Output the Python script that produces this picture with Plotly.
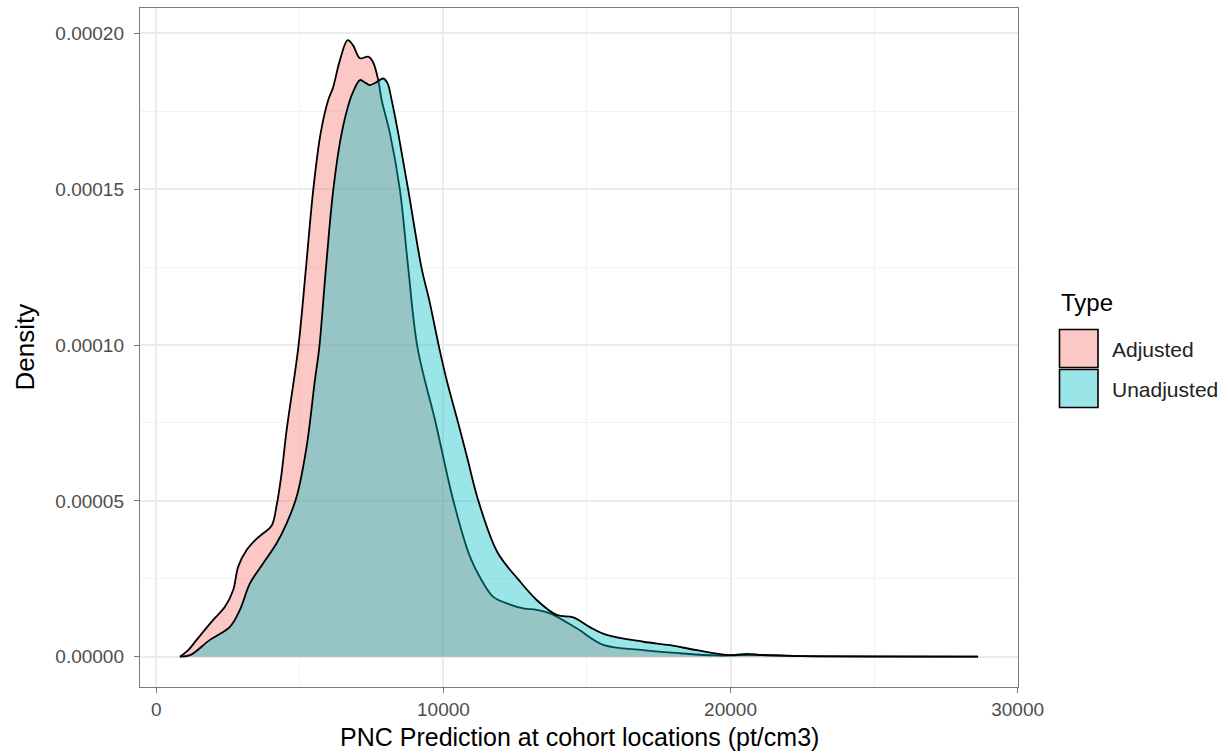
import plotly.graph_objects as go

# Kernel density estimates of PNC predictions (pt/cm3) at cohort locations
series_names = ["Adjusted", "Unadjusted"]

adjusted_x = [819, 1100, 1401, 1979, 2387, 2676, 2850, 3143, 3450, 3721, 4014, 4188, 4350,
              4537, 4941, 5209, 5463, 5721, 5986, 6150, 6394, 6662, 6847, 7091, 7380, 7544,
              7728, 7847, 8136, 8484, 8774, 9100, 9730, 10345, 10923, 11300, 11735, 12300,
              12780, 13247, 13711, 14641, 15568, 16962, 18240, 19500, 21000, 22500, 25000, 28624]
adjusted_y = [0.0, 0.2, 0.54, 1.18, 1.60, 2.14, 2.89, 3.42, 3.75, 3.96, 4.20, 4.85, 5.80,
              7.27, 9.90, 12.46, 14.97, 16.79, 17.86, 18.25, 19.14, 19.78, 19.62, 19.20, 19.25, 19.08,
              18.50, 17.86, 16.79, 14.97, 12.46, 9.90, 7.50, 5.00, 3.21, 2.50, 1.92, 1.68,
              1.55, 1.50, 1.39, 0.91, 0.38, 0.21, 0.11, 0.04, 0.06, 0.02, 0.01, 0.0]

unadjusted_x = [819, 1174, 1864, 2561, 2909, 3258, 3721, 4188, 4537, 4885, 5233, 5523, 5672,
                5906, 6160, 6453, 6742, 6857, 7091, 7300, 7439, 7683, 7902, 8050, 8195, 8425,
                8774, 9240, 9505, 9854, 10111, 10516, 10850, 11200, 11880, 12606, 13247, 13944,
                14523, 15100, 15686, 16962, 17892, 18822, 19983, 20575, 21133, 22422, 25000, 28624]
unadjusted_y = [0.0, 0.05, 0.54, 0.96, 1.50, 2.35, 3.00, 3.64, 4.28, 5.13, 6.74, 8.88, 9.90,
                12.46, 14.97, 16.79, 17.86, 18.13, 18.50, 18.40, 18.34, 18.44, 18.55, 18.40, 17.86, 16.79,
                14.97, 12.46, 11.44, 9.90, 8.88, 7.49, 6.30, 5.05, 3.35, 2.48, 1.82, 1.34,
                1.26, 0.95, 0.70, 0.48, 0.37, 0.21, 0.05, 0.09, 0.05, 0.02, 0.005, 0.0]

SCALE = 1e-5  # density values above are in units of 1e-5

x_ticks = [0, 10000, 20000, 30000]
y_ticks = [0.0, 0.00005, 0.00010, 0.00015, 0.00020]

fill_colors = ["rgba(248,118,109,0.4)", "rgba(0,191,196,0.4)"]
FONT = "Liberation Sans, Arial, sans-serif"

fig = go.Figure()
for name, xs, ys, fc in zip(series_names,
                            [adjusted_x, unadjusted_x],
                            [adjusted_y, unadjusted_y],
                            fill_colors):
    fig.add_trace(go.Scatter(
        x=xs, y=[v * SCALE for v in ys], name=name, mode="lines",
        line=dict(color="black", width=1.8, shape="spline", smoothing=1.0),
        fill="tozeroy", fillcolor=fc, showlegend=False,
    ))

axis_common = dict(
    showline=True, mirror=True, linecolor="#7a7a7a", linewidth=1.4,
    ticks="outside", ticklen=5, tickwidth=1.4, tickcolor="#7a7a7a",
    showgrid=True, gridcolor="#EBEBEB", gridwidth=1.6, zeroline=False,
    tickfont=dict(family=FONT, size=19, color="#4D4D4D"),
)

fig.update_xaxes(
    range=[-571, 30014], tickvals=x_ticks, tickformat="d",
    minor=dict(dtick=5000, tick0=0, showgrid=True, gridcolor="#F3F3F3", gridwidth=1),
    **axis_common,
)
fig.update_yaxes(
    range=[-0.00000972, 0.00020812], tickvals=y_ticks, tickformat=".5f",
    ticklabelstandoff=6,
    minor=dict(dtick=0.000025, tick0=0, showgrid=True, gridcolor="#F3F3F3", gridwidth=1),
    **axis_common,
)

L, R, T, B = 140, 210, 8, 67
W, H = 1228, 754
pw, ph = W - L - R, H - T - B


def px_x(px):
    return (px - L) / pw


def px_y(py):
    return (H - B - py) / ph


annotations = [
    dict(text="PNC Prediction at cohort locations (pt/cm3)", x=0.5, y=px_y(737),
         xref="paper", yref="paper", xanchor="center", yanchor="middle", showarrow=False,
         font=dict(family=FONT, size=25, color="black")),
    dict(text="Density", x=px_x(24), y=0.5, xref="paper", yref="paper",
         xanchor="center", yanchor="middle", textangle=-90, showarrow=False,
         font=dict(family=FONT, size=26, color="black")),
    dict(text="Type", x=px_x(1059), y=px_y(302), xref="paper", yref="paper",
         xanchor="left", yanchor="middle", showarrow=False,
         font=dict(family=FONT, size=24, color="black")),
]

# Legend keys drawn as boxes beside the panel
shapes = []
key_tops = [329.5, 369.5]
for name, fc, top in zip(series_names, fill_colors, key_tops):
    shapes.append(dict(type="rect", xref="paper", yref="paper",
                       x0=px_x(1059.5), x1=px_x(1098), y0=px_y(top + 38), y1=px_y(top),
                       fillcolor=fc, line=dict(color="black", width=1.6)))
    annotations.append(dict(text=name, x=px_x(1110), y=px_y(top + 19.5),
                            xref="paper", yref="paper", xanchor="left", yanchor="middle",
                            showarrow=False,
                            font=dict(family=FONT, size=21, color="#222222")))

fig.update_layout(
    width=W, height=H, autosize=False,
    margin=dict(l=L, r=R, t=T, b=B),
    paper_bgcolor="white", plot_bgcolor="white",
    annotations=annotations, shapes=shapes,
    showlegend=False,
)

fig.write_html("out.html")
